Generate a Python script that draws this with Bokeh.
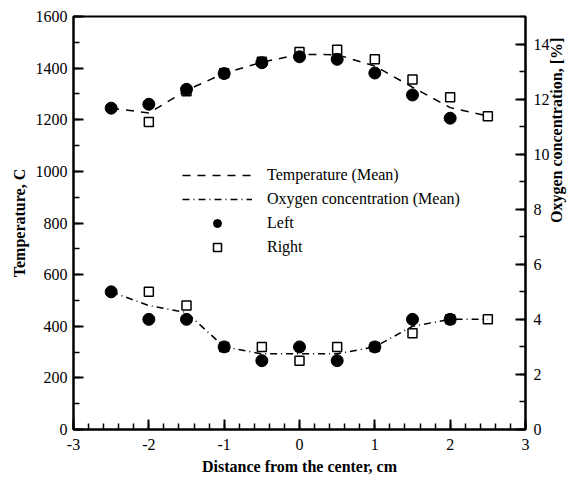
import math
from bokeh.plotting import figure
from bokeh.models import (Range1d, LinearAxis, FixedTicker, Legend, LegendItem,
                          PrintfTickFormatter)
from bokeh.embed import file_html
from bokeh.resources import INLINE

# ---- data ----
x_left = [-2.5, -2, -1.5, -1, -0.5, 0, 0.5, 1, 1.5, 2]
temp_left = [1245, 1260, 1318, 1379, 1421, 1444, 1434, 1381, 1296, 1206]
oxy_left = [5.0, 4.0, 4.0, 3.0, 2.5, 3.0, 2.5, 3.0, 4.0, 4.0]

x_right = [-2, -1.5, -1, -0.5, 0, 0.5, 1, 1.5, 2, 2.5]
temp_right = [1191, 1310, 1380, 1425, 1462, 1471, 1434, 1356, 1287, 1214]
oxy_right = [5.0, 4.5, 3.0, 3.0, 2.5, 3.0, 3.0, 3.5, 4.0, 4.0]

x_mean = [-2.5, -2, -1.5, -1, -0.5, 0, 0.5, 1, 1.5, 2, 2.5]
temp_mean = [1245, 1226, 1314, 1380, 1423, 1453, 1452, 1408, 1326, 1247, 1214]
oxy_mean = [5.0, 4.5, 4.25, 3.0, 2.75, 2.75, 2.75, 3.0, 3.75, 4.0, 4.0]

x_ticks = [-3, -2, -1, 0, 1, 2, 3]
temp_ticks = [0, 200, 400, 600, 800, 1000, 1200, 1400, 1600]
oxy_ticks = [0, 2, 4, 6, 8, 10, 12, 14]

FONT = "Liberation Serif"

p = figure(width=576, height=477, output_backend="svg", toolbar_location=None,
           x_range=Range1d(-3, 3), y_range=Range1d(0, 1600),
           min_border_left=73, min_border_right=49, min_border_top=16,
           min_border_bottom=46)
p.extra_y_ranges = {"oxy": Range1d(0, 15)}
p.grid.visible = False
p.outline_line_color = "black"
p.outline_line_width = 2
p.background_fill_color = "white"
p.border_fill_color = "white"

def style_axis(ax, major, minor, label, standoff, label_standoff):
    ax.ticker = FixedTicker(ticks=major, minor_ticks=minor)
    ax.formatter = PrintfTickFormatter(format="%d")
    ax.axis_label = label
    ax.axis_label_text_font = FONT
    ax.axis_label_text_font_style = "bold"
    ax.axis_label_text_font_size = "16px"
    ax.axis_label_text_color = "black"
    ax.axis_label_standoff = label_standoff
    ax.major_label_text_font = FONT
    ax.major_label_text_font_size = "16px"
    ax.major_label_text_color = "black"
    ax.major_label_standoff = standoff
    ax.axis_line_width = 2
    ax.axis_line_color = "black"
    ax.major_tick_line_width = 2
    ax.major_tick_line_color = "black"
    ax.minor_tick_line_width = 1.5
    ax.minor_tick_line_color = "black"
    ax.major_tick_in = 10
    ax.major_tick_out = 0
    ax.minor_tick_in = 6
    ax.minor_tick_out = 0

xminor = [round(-3 + 0.2 * i, 2) for i in range(31)]
style_axis(p.xaxis[0], x_ticks, xminor, "Distance from the center, cm", 9, 5)
style_axis(p.yaxis[0], temp_ticks, list(range(0, 1601, 100)), "Temperature, C", 6, 5)

rax = LinearAxis(y_range_name="oxy")
style_axis(rax, oxy_ticks, list(range(0, 16)), "Oxygen concentration, [%]", 8, 4)
try:
    rax.axis_label_orientation = math.pi / 2
    rax.axis_label_text_baseline = "top"
    rax.axis_label_text_line_height = 1.0
except Exception:
    pass
p.add_layout(rax, "right")

# mean lines
r_tm = p.line(x_mean, temp_mean, line_color="black", line_width=1.5, line_dash="8 7")
r_om = p.line(x_mean, oxy_mean, line_color="black", line_width=1.5,
              line_dash="7 4 1 4", y_range_name="oxy")

# right (squares) first, then left (circles)
r_rt = p.scatter(x_right, temp_right, marker="square", size=9, fill_color=None,
                 line_color="black", line_width=1.5)
r_ro = p.scatter(x_right, oxy_right, marker="square", size=9, fill_color=None,
                 line_color="black", line_width=1.5, y_range_name="oxy")
r_lt = p.scatter(x_left, temp_left, marker="circle", size=12, fill_color="black",
                 line_color="black")
r_lo = p.scatter(x_left, oxy_left, marker="circle", size=12, fill_color="black",
                 line_color="black", y_range_name="oxy")

legend = Legend(items=[
    LegendItem(label="Temperature (Mean)", renderers=[r_tm]),
    LegendItem(label="Oxygen concentration (Mean)", renderers=[r_om]),
    LegendItem(label="Left", renderers=[r_lt]),
    LegendItem(label="Right", renderers=[r_rt]),
], location=(109, 172))
legend.border_line_color = None
legend.background_fill_alpha = 0
legend.padding = 0
legend.margin = 0
legend.spacing = 4
legend.glyph_width = 70
legend.glyph_height = 20
legend.label_height = 20
legend.label_standoff = 15
legend.label_text_font = FONT
legend.label_text_font_size = "16px"
legend.label_text_color = "black"
legend.label_text_baseline = "middle"
p.add_layout(legend, "center")

open("out.html", "w").write(file_html(p, INLINE))
